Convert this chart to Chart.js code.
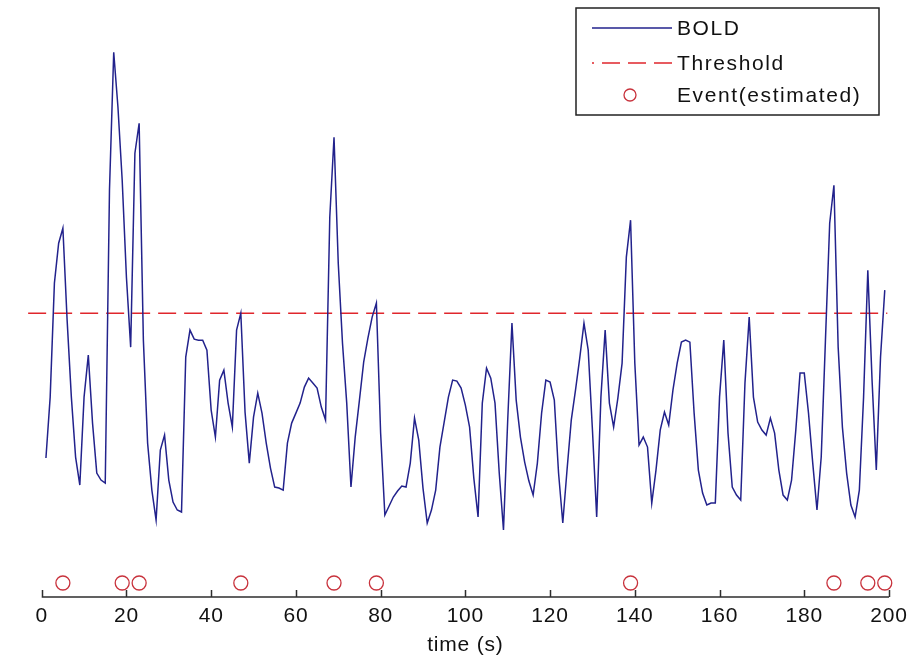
<!DOCTYPE html>
<html>
<head>
<meta charset="utf-8">
<script src="https://cdn.jsdelivr.net/npm/chart.js@4.4.1/dist/chart.umd.min.js"></script>
<style>
  html, body { margin: 0; padding: 0; background: #fff; }
</style>
</head>
<body>
<canvas id="bold-chart" width="914" height="662"></canvas>
<script>
// BOLD signal, one sample per second (t = 1 .. 199)
const boldSignal = [
  -0.45, 0.16, 1.30, 1.70, 1.85, 0.93, 0.16, -0.44, -0.72, 0.16,
  0.58, -0.10, -0.60, -0.67, -0.70, 2.23, 3.61, 3.06, 2.33, 1.36,
  0.66, 2.60, 2.90, 0.73, -0.30, -0.77, -1.07, -0.37, -0.22, -0.67,
  -0.89, -0.97, -0.99, 0.56, 0.83, 0.74, 0.73, 0.73, 0.63, 0.03,
  -0.24, 0.33, 0.43, 0.10, -0.14, 0.83, 1.00, 0.01, -0.50, -0.04,
  0.20, 0.00, -0.30, -0.55, -0.74, -0.75, -0.77, -0.30, -0.10, 0.00,
  0.10, 0.26, 0.35, 0.30, 0.25, 0.06, -0.07, 1.96, 2.76, 1.50,
  0.70, 0.10, -0.74, -0.24, 0.13, 0.51, 0.75, 0.96, 1.10, -0.20,
  -1.02, -0.93, -0.84, -0.78, -0.73, -0.74, -0.50, -0.05, -0.27, -0.75,
  -1.10, -0.97, -0.77, -0.34, -0.09, 0.16, 0.33, 0.32, 0.25, 0.08,
  -0.14, -0.65, -1.04, 0.10, 0.45, 0.35, 0.10, -0.60, -1.17, -0.07,
  0.90, 0.13, -0.24, -0.49, -0.68, -0.82, -0.50, 0.00, 0.33, 0.31,
  0.13, -0.60, -1.10, -0.57, -0.07, 0.23, 0.55, 0.90, 0.63, -0.17,
  -1.04, 0.16, 0.83, 0.10, -0.14, 0.15, 0.50, 1.56, 1.93, 0.50,
  -0.32, -0.24, -0.34, -0.90, -0.57, -0.17, 0.01, -0.12, 0.23, 0.50,
  0.71, 0.73, 0.71, 0.00, -0.57, -0.80, -0.92, -0.90, -0.90, 0.16,
  0.73, -0.20, -0.74, -0.82, -0.87, 0.30, 0.96, 0.16, -0.09, -0.17,
  -0.22, -0.05, -0.20, -0.57, -0.82, -0.87, -0.67, -0.17, 0.40, 0.40,
  0.00, -0.50, -0.97, -0.44, 0.73, 1.90, 2.28, 0.66, -0.14, -0.60,
  -0.92, -1.04, -0.77, 0.16, 1.43, 0.33, -0.57, 0.56, 1.23
];
const eventTimes = [5, 19, 23, 47, 69, 79, 139, 187, 195, 199];
const eventLevel = -1.7;
const thresholdValue = 1.0;
const thresholdSpan = [-3.2, 199.6];
const xTicks = [0, 20, 40, 60, 80, 100, 120, 140, 160, 180, 200];
const seriesNames = ["BOLD", "Threshold", "Event(estimated)"];

document.addEventListener("DOMContentLoaded", function () {
  const ctx = document.getElementById("bold-chart");
  const fontFamily = "'Liberation Sans', Arial, sans-serif";
  const textColor = "#111111";

  // bottom axis line with inward ticks, plus a boxed legend like the original figure
  const matlabLook = {
    id: "matlabLook",
    beforeDraw(chart) {
      chart.ctx.letterSpacing = "0.8px";
    },
    afterDraw(chart) {
      const c = chart.ctx;
      const xs = chart.scales.x;
      const yb = chart.chartArea.bottom;
      c.save();
      c.letterSpacing = "0px";
      c.strokeStyle = "#2e2e2e";
      c.lineWidth = 1.5;
      c.setLineDash([]);
      c.beginPath();
      c.moveTo(xs.getPixelForValue(xTicks[0]), yb);
      c.lineTo(xs.getPixelForValue(xTicks[xTicks.length - 1]), yb);
      xTicks.forEach(function (t) {
        const px = Math.round(xs.getPixelForValue(t)) + 0.5;
        c.moveTo(px, yb);
        c.lineTo(px, yb - 7);
      });
      c.stroke();

      // legend
      const box = { left: 576, top: 8, right: 879, bottom: 115 };
      c.fillStyle = "#ffffff";
      c.fillRect(box.left, box.top, box.right - box.left, box.bottom - box.top);
      c.strokeStyle = "#222222";
      c.lineWidth = 1.5;
      c.strokeRect(box.left, box.top, box.right - box.left, box.bottom - box.top);

      const rowY = [28, 63, 95];
      const sampleL = 592, sampleR = 672, textX = 677;
      chart.data.datasets.forEach(function (ds, i) {
        const yy = rowY[i];
        c.save();
        if (ds.showLine === false) {
          c.strokeStyle = ds.pointBorderColor;
          c.lineWidth = ds.pointBorderWidth;
          c.beginPath();
          c.arc((sampleL + sampleR) / 2 - 2, yy, 6, 0, Math.PI * 2);
          c.stroke();
        } else {
          c.strokeStyle = ds.borderColor;
          c.lineWidth = ds.borderWidth;
          c.setLineDash(ds.borderDash || []);
          c.beginPath();
          c.moveTo(sampleR, yy);
          c.lineTo(sampleL, yy);
          c.stroke();
        }
        c.restore();
        c.fillStyle = textColor;
        c.font = "21px " + fontFamily;
        c.textBaseline = "middle";
        c.textAlign = "left";
        c.letterSpacing = "1.6px";
        c.fillText(ds.label, textX, yy + 1);
      });
      c.restore();
    }
  };

  const boldPoints = boldSignal.map(function (v, i) { return { x: i + 1, y: v }; });
  const thresholdPoints = thresholdSpan.map(function (t) { return { x: t, y: thresholdValue }; });
  const eventPoints = eventTimes.map(function (t) { return { x: t, y: eventLevel }; });

  const chartData = {
    datasets: [
      {
        label: seriesNames[0],
        data: boldPoints,
        borderColor: "#22228c",
        borderWidth: 1.5,
        pointRadius: 0,
        tension: 0,
        fill: false,
      },
      {
        label: seriesNames[1],
        data: thresholdPoints,
        borderColor: "#e0262c",
        borderWidth: 1.5,
        borderDash: [18, 8],
        pointRadius: 0,
        fill: false,
        clip: false,
      },
      {
        label: seriesNames[2],
        data: eventPoints,
        showLine: false,
        pointStyle: "circle",
        pointRadius: 7,
        pointBorderWidth: 1.3,
        pointBorderColor: "#c8323c",
        pointBackgroundColor: "rgba(0,0,0,0)",
        clip: false,
      },
    ],
  };

  const chartOptions = {
    responsive: false,
    animation: false,
    devicePixelRatio: 1,
    layout: { padding: { left: 41.7, right: 25, top: 8, bottom: 0 } },
    plugins: {
      legend: { display: false },
      tooltip: { enabled: false },
    },
    scales: {
      x: {
        type: "linear",
        min: 0,
        max: 200,
        afterBuildTicks: function (s) {
          s.ticks = xTicks.map(function (v) { return { value: v }; });
        },
        afterFit: function (s) {
          s.height = 65;
        },
        grid: { display: false, drawTicks: false },
        border: { display: false },
        ticks: {
          color: textColor,
          padding: 7,
          maxRotation: 0,
          autoSkip: false,
          font: { family: fontFamily, size: 21 },
        },
        title: {
          display: true,
          text: "time (s)",
          color: textColor,
          font: { family: fontFamily, size: 21 },
          padding: { top: 0, bottom: 4 },
        },
      },
      y: {
        display: false,
        min: -1.84,
        max: 4.05,
      },
    },
  };

  new Chart(ctx, {
    type: "line",
    data: chartData,
    options: chartOptions,
    plugins: [matlabLook],
  });
});
</script>
</body>
</html>
